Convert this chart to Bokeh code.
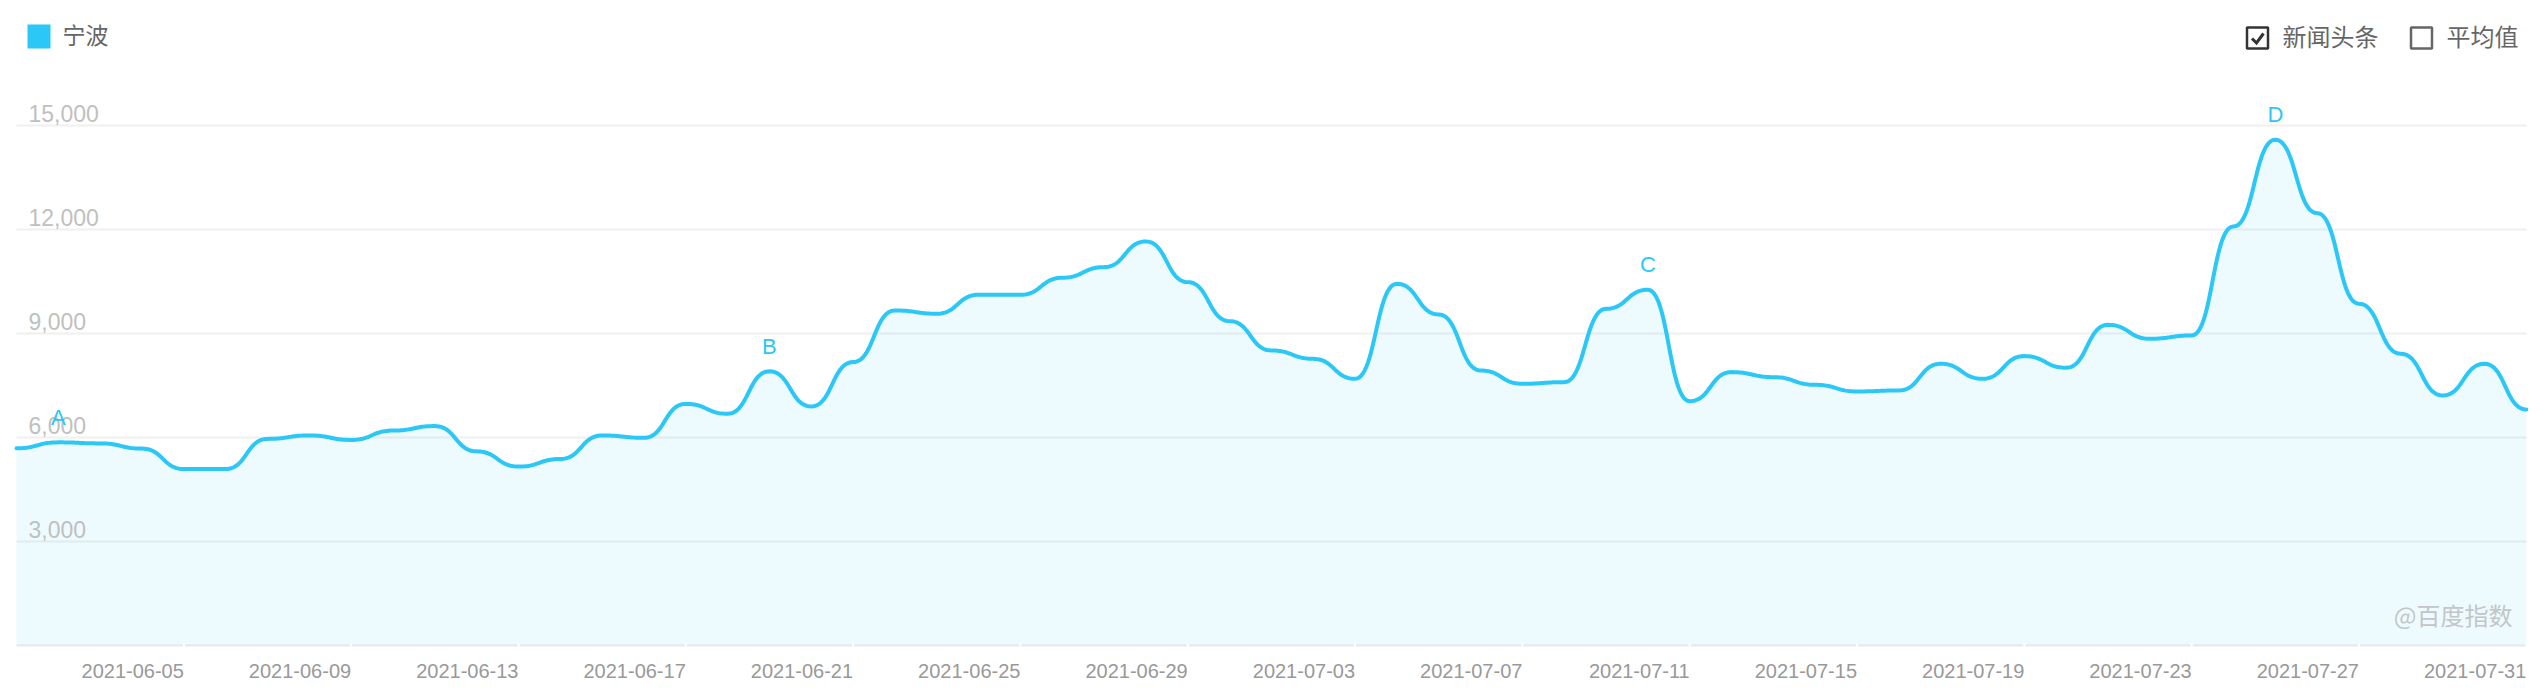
import numpy as np
from bokeh.plotting import figure
from bokeh.models import Range1d
from bokeh.embed import file_html
from bokeh.resources import INLINE
from bokeh.core.properties import value

# ---------------- data ----------------
series_name = "宁波"
start_date = "2021-06-01"
days = list(range(61))
values = [5690, 5860, 5830, 5680, 5090, 5090, 5960, 6060, 5930, 6200,
          6330, 5600, 5160, 5380, 6060, 5990, 6970, 6685, 7910, 6895,
          8175, 9665, 9570, 10117, 10117, 10608, 10915, 11655, 10482, 9357,
          8510, 8270, 7694, 10434, 9549, 7934, 7549, 7597, 9713, 10262,
          7048, 7886, 7741, 7520, 7328, 7357, 8127, 7694, 8348, 8012,
          9250, 8848, 8943, 12088, 14590, 12472, 9858, 8415, 7213, 8127,
          6809]
tick_days = [4, 8, 12, 16, 20, 24, 28, 32, 36, 40, 44, 48, 52, 56, 60]
tick_labels = ["2021-06-05", "2021-06-09", "2021-06-13", "2021-06-17",
               "2021-06-21", "2021-06-25", "2021-06-29", "2021-07-03",
               "2021-07-07", "2021-07-11", "2021-07-15", "2021-07-19",
               "2021-07-23", "2021-07-27", "2021-07-31"]
y_ticks = [3000, 6000, 9000, 12000, 15000]
y_tick_labels = ["3,000", "6,000", "9,000", "12,000", "15,000"]
marker_days = [1, 18, 39, 54]
marker_letters = ["A", "B", "C", "D"]
toggle_labels = ["新闻头条", "平均值"]
watermark = "@百度指数"

# ---------------- layout ----------------
W, H = 2546, 696
SX = 41.83            # px per day
SY = 104.0 / 3000.0   # px per unit
X0 = -16.0 / SX
X1 = X0 + W / SX
Y1 = 645.0 / SY
Y0 = Y1 - H / SY

def px(xp):
    return X0 + xp / SX

def py(yp):
    return Y1 - yp / SY

LINE = "#2bc7f7"
CJK = value("Noto Sans CJK SC")
LAT = value("Liberation Sans")

# ---------------- smoothing: cubic segments with horizontal tangents ----------------
def smooth_curve(xd, yd, k=0.5, n=28):
    xd = np.asarray(xd, float)
    yd = np.asarray(yd, float)
    t = np.linspace(0, 1, n)
    xs, ys = [], []
    for i in range(len(xd) - 1):
        x0, y0, x3, y3 = xd[i], yd[i], xd[i + 1], yd[i + 1]
        dx = x3 - x0
        x1, y1 = x0 + k * dx, y0
        x2, y2 = x3 - k * dx, y3
        tt = t if i == 0 else t[1:]
        mt = 1 - tt
        bx = mt**3 * x0 + 3 * mt**2 * tt * x1 + 3 * mt * tt**2 * x2 + tt**3 * x3
        by = mt**3 * y0 + 3 * mt**2 * tt * y1 + 3 * mt * tt**2 * y2 + tt**3 * y3
        xs.extend(bx)
        ys.extend(by)
    return np.array(xs), np.array(ys)

cx, cy = smooth_curve(days, values)

# ---------------- figure ----------------
p = figure(width=W, height=H, output_backend="svg", toolbar_location=None,
           x_range=Range1d(X0, X1), y_range=Range1d(Y0, Y1),
           x_axis_location=None, y_axis_location=None,
           min_border=0, min_border_left=0, min_border_right=0,
           min_border_top=0, min_border_bottom=0)
p.grid.visible = False
p.outline_line_color = None
p.background_fill_color = "white"
p.border_fill_color = "white"

# grid lines
p.segment(x0=[days[0]] * len(y_ticks), x1=[days[-1]] * len(y_ticks),
          y0=y_ticks, y1=y_ticks, line_color="#f0f0f0", line_width=2)
# axis base line
p.segment(x0=[days[0]], x1=[days[-1]], y0=[0], y1=[0],
          line_color="#ececec", line_width=2)

# area + line
p.varea(x=cx, y1=np.zeros_like(cy), y2=cy, fill_color=LINE, fill_alpha=0.08)
p.line(cx, cy, line_color=LINE, line_width=4, line_join="round", line_cap="round")

# tick gaps on axis line
p.rect(x=tick_days, y=[0] * len(tick_days), width=2, height=4,
       width_units="screen", height_units="screen",
       fill_color="white", line_color=None)

# x labels (right aligned at ticks)
p.text(x=tick_days, y=[0] * len(tick_days), text=tick_labels,
       y_offset=25, text_align="right", text_baseline="middle",
       text_font=LAT, text_font_size="20px", text_color="#999999")

# y labels
p.text(x=[days[0]] * len(y_ticks), y=y_ticks, text=y_tick_labels,
       x_offset=12, y_offset=-12, text_align="left", text_baseline="alphabetic",
       text_font=LAT, text_font_size="23px", text_color="#c0c0c0")

# event markers
p.text(x=marker_days, y=[values[d] for d in marker_days], text=marker_letters,
       y_offset=-25, text_align="center", text_baseline="alphabetic",
       text_font=LAT, text_font_size="22px", text_color=LINE)

# legend
p.rect(x=[px(38.5)], y=[py(36)], width=23, height=24,
       width_units="screen", height_units="screen",
       fill_color=LINE, line_color=None)
p.text(x=[px(62)], y=[py(33)], text=[series_name], text_align="left",
       text_baseline="middle", text_font=CJK, text_font_size="23px",
       text_color="#666666")

# toggles
p.rect(x=[px(2257)], y=[py(37.5)], width=21, height=21,
       width_units="screen", height_units="screen",
       fill_color="white", line_color="#333333", line_width=2.5)
p.line(x=[px(2251.5), px(2256), px(2263)], y=[py(38), py(42.5), py(33)],
       line_color="#333333", line_width=3, line_join="miter")
p.text(x=[px(2282)], y=[py(34.5)], text=[toggle_labels[0]], text_align="left",
       text_baseline="middle", text_font=CJK, text_font_size="24px",
       text_color="#666666")
p.rect(x=[px(2421)], y=[py(37.5)], width=21, height=21,
       width_units="screen", height_units="screen",
       fill_color="white", line_color="#666666", line_width=2.5)
p.text(x=[px(2446)], y=[py(34.5)], text=[toggle_labels[1]], text_align="left",
       text_baseline="middle", text_font=CJK, text_font_size="24px",
       text_color="#666666")

# watermark
p.text(x=[px(2512)], y=[py(614)], text=[watermark], text_align="right",
       text_baseline="middle", text_font=CJK, text_font_size="24px",
       text_color="#c2c6c8")

open("out.html", "w").write(file_html(p, INLINE))
